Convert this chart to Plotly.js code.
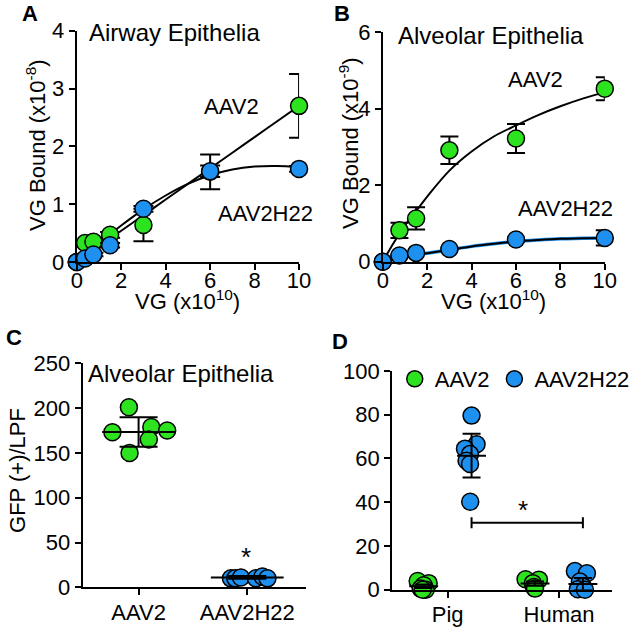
<!DOCTYPE html>
<html>
<head>
<meta charset="utf-8">
<script src="https://cdn.plot.ly/plotly-3.0.1.min.js"></script>
<style>html,body{margin:0;padding:0;background:#fff;}#chart{width:635px;height:627px;}</style>
</head>
<body>
<div id="chart"></div>
<script>
// ---------- Panel A: Airway epithelia binding ----------
const doseA = [0, 0.375, 0.75, 1.5, 3, 6, 10];
const boundA_AAV2 = [0, 0.33, 0.35, 0.47, 0.64, 1.56, 2.7];
const errA_AAV2 = [0, 0.03, 0.03, 0.05, 0.28, 0.3, 0.55];
const boundA_H22 = [0, 0.06, 0.13, 0.29, 0.92, 1.57, 1.61];
const errA_H22 = [0, 0.02, 0.03, 0.04, 0.05, 0.1, 0.05];
const fitA_x = [0, 1, 2, 3, 4, 5, 6, 7, 8, 9, 10];
const fitA_AAV2 = [0, 0.27, 0.54, 0.81, 1.08, 1.35, 1.62, 1.89, 2.16, 2.43, 2.7];
const fitA_H22 = [0, 0.32, 0.63, 0.91, 1.15, 1.35, 1.5, 1.6, 1.65, 1.66, 1.64];

// ---------- Panel B: Alveolar epithelia binding ----------
const doseB = [0, 0.75, 1.5, 3, 6, 10];
const boundB_AAV2 = [0, 0.82, 1.13, 2.91, 3.22, 4.52];
const errB_AAV2 = [0, 0.2, 0.29, 0.36, 0.38, 0.3];
const boundB_H22 = [0, 0.16, 0.23, 0.33, 0.58, 0.62];
const errB_H22 = [0, 0.03, 0.03, 0.04, 0.05, 0.2];
const fitB_x = [0, 0.5, 1, 1.5, 2, 3, 4, 5, 6, 7, 8, 9, 10];
const fitB_AAV2 = [0, 0.5, 0.95, 1.32, 1.7, 2.38, 2.88, 3.27, 3.56, 3.83, 4.06, 4.26, 4.43];
const fitB_H22 = [0, 0.06, 0.12, 0.18, 0.22, 0.31, 0.4, 0.47, 0.53, 0.57, 0.6, 0.61, 0.62];

// ---------- Panel C: GFP(+)/LPF ----------
const groupsC = ['AAV2', 'AAV2H22'];
const gfp_AAV2 = [201, 173, 150, 179, 175, 165];
const jitC_AAV2 = [-0.089, -0.241, -0.083, 0.117, 0.263, 0.094];
const gfp_H22 = [10, 10, 11, 10, 12, 10];
const jitC_H22 = [-0.15, -0.11, -0.058, 0.08, 0.14, 0.186];
const meanC = [173.3, 11];
const sdC = [16.4, 1.5];

// ---------- Panel D: Pig vs Human ----------
const species = ['Pig', 'Human'];
const pig_AAV2 = [4, 3, 2, 0.5, 0, 0];
const jitPig_AAV2 = [-0.054, 0.045, 0, -0.027, 0.018, -0.009];
const human_AAV2 = [4.8, 4.6, 3, 1.2, 0.5];
const jitHuman_AAV2 = [-0.085, 0.035, -0.02, -0.01, 0.0];
const pig_H22 = [79.6, 66.5, 64.5, 62, 59, 57.5, 40.2];
const jitPig_H22 = [0, 0.045, -0.059, -0.014, -0.045, -0.014, -0.012];
const human_H22 = [8.5, 7.5, 3.7, 1.4, 0.2, 0];
const jitHuman_H22 = [-0.072, 0.036, -0.027, 0, -0.045, 0.018];
const meanD_AAV2 = [1.6, 2.8];
const sdD_AAV2 = [0.8, 1.0];
const meanD_H22 = [61.3, 2.6];
const sdD_H22 = [10, 2.8];
const sigBarD = 30.6;   // significance bar level
const sigTickD = 2.5;

// ---------- styles ----------
const GREEN = 'rgb(45,226,30)';
const BLUE = 'rgb(30,144,240)';
const FONT = '"Liberation Sans", Arial, Helvetica, sans-serif';
const W = 635, H = 627;
const fx = p => p / W;
const fy = p => 1 - p / H;
const mk = c => ({color: c, size: 17, line: {color: 'black', width: 1.5}});

const traces = [];

// A
traces.push({x: fitA_x, y: fitA_AAV2, xaxis: 'x', yaxis: 'y', mode: 'lines', line: {color: 'black', width: 2, shape: 'spline'}, showlegend: false, hoverinfo: 'skip'});
traces.push({x: fitA_x, y: fitA_H22, xaxis: 'x', yaxis: 'y', mode: 'lines', line: {color: 'black', width: 2, shape: 'spline'}, showlegend: false, hoverinfo: 'skip'});
traces.push({x: doseA, y: boundA_AAV2, xaxis: 'x', yaxis: 'y', mode: 'markers', marker: mk(GREEN), error_y: {type: 'data', array: errA_AAV2, color: 'black', thickness: 2, width: 10}, showlegend: false, cliponaxis: false});
traces.push({x: doseA, y: boundA_H22, xaxis: 'x', yaxis: 'y', mode: 'markers', marker: mk(BLUE), error_y: {type: 'data', array: errA_H22, color: 'black', thickness: 2, width: 10}, showlegend: false, cliponaxis: false});

// B
traces.push({x: fitB_x, y: fitB_AAV2, xaxis: 'x2', yaxis: 'y2', mode: 'lines', line: {color: 'black', width: 2, shape: 'spline'}, showlegend: false, hoverinfo: 'skip'});
traces.push({x: fitB_x, y: fitB_H22, xaxis: 'x2', yaxis: 'y2', mode: 'lines', line: {color: BLUE, width: 3.5, shape: 'spline'}, showlegend: false, hoverinfo: 'skip'});
traces.push({x: fitB_x, y: fitB_H22, xaxis: 'x2', yaxis: 'y2', mode: 'lines', line: {color: 'black', width: 2, shape: 'spline'}, showlegend: false, hoverinfo: 'skip'});
traces.push({x: doseB, y: boundB_AAV2, xaxis: 'x2', yaxis: 'y2', mode: 'markers', marker: mk(GREEN), error_y: {type: 'data', array: errB_AAV2, color: 'black', thickness: 2, width: 9}, showlegend: false, cliponaxis: false});
traces.push({x: doseB, y: boundB_H22, xaxis: 'x2', yaxis: 'y2', mode: 'markers', marker: mk(BLUE), error_y: {type: 'data', array: errB_H22, color: 'black', thickness: 2, width: 9}, showlegend: false, cliponaxis: false});

// C
const posC = [0, 1];
traces.push({x: jitC_AAV2.map(j => posC[0] + j), y: gfp_AAV2, xaxis: 'x3', yaxis: 'y3', mode: 'markers', marker: mk(GREEN), showlegend: false, cliponaxis: false});
traces.push({x: jitC_H22.map(j => posC[1] + j), y: gfp_H22, xaxis: 'x3', yaxis: 'y3', mode: 'markers', marker: mk(BLUE), showlegend: false, cliponaxis: false});
const hwC = 0.335;
const meanLineC_x = [], meanLineC_y = [];
posC.forEach((p, i) => { meanLineC_x.push(p - hwC, p + hwC, null); meanLineC_y.push(meanC[i], meanC[i], null); });
traces.push({x: meanLineC_x, y: meanLineC_y, xaxis: 'x3', yaxis: 'y3', mode: 'lines', line: {color: 'black', width: 2}, showlegend: false, hoverinfo: 'skip', cliponaxis: false});
traces.push({x: posC, y: meanC, xaxis: 'x3', yaxis: 'y3', mode: 'markers', marker: {size: 1, opacity: 0}, error_y: {type: 'data', array: sdC, color: 'black', thickness: 2, width: 19}, showlegend: false, hoverinfo: 'skip', cliponaxis: false});

// D
const posD = [0, 1];
const off = 0.215;
traces.push({
  x: jitPig_AAV2.map(j => posD[0] - off + j).concat(jitHuman_AAV2.map(j => posD[1] - off + j)),
  y: pig_AAV2.concat(human_AAV2),
  xaxis: 'x4', yaxis: 'y4', mode: 'markers', marker: mk(GREEN), name: 'AAV2', showlegend: true, cliponaxis: false});
traces.push({
  x: jitPig_H22.map(j => posD[0] + off + j).concat(jitHuman_H22.map(j => posD[1] + off + j)),
  y: pig_H22.concat(human_H22),
  xaxis: 'x4', yaxis: 'y4', mode: 'markers', marker: mk(BLUE), name: 'AAV2H22', showlegend: true, cliponaxis: false});
const hwD = 0.13;
const mlx = [], mly = [], ebx = [], eby = [], ebe = [];
posD.forEach((p, i) => {
  mlx.push(p - off - hwD, p - off + hwD, null); mly.push(meanD_AAV2[i], meanD_AAV2[i], null);
  mlx.push(p + off - hwD, p + off + hwD, null); mly.push(meanD_H22[i], meanD_H22[i], null);
  ebx.push(p - off, p + off); eby.push(meanD_AAV2[i], meanD_H22[i]); ebe.push(sdD_AAV2[i], sdD_H22[i]);
});
traces.push({x: mlx, y: mly, xaxis: 'x4', yaxis: 'y4', mode: 'lines', line: {color: 'black', width: 2}, showlegend: false, hoverinfo: 'skip', cliponaxis: false});
traces.push({x: ebx, y: eby, xaxis: 'x4', yaxis: 'y4', mode: 'markers', marker: {size: 1, opacity: 0}, error_y: {type: 'data', array: ebe, color: 'black', thickness: 2, width: 9}, showlegend: false, hoverinfo: 'skip', cliponaxis: false});
// significance bar between pig and human AAV2H22
traces.push({x: [posD[0] + off, posD[1] + off], y: [sigBarD, sigBarD], xaxis: 'x4', yaxis: 'y4', mode: 'lines', line: {color: 'black', width: 2}, error_y: {type: 'constant', value: sigTickD, color: 'black', thickness: 2, width: 0}, showlegend: false, hoverinfo: 'skip', cliponaxis: false});

const axBase = {
  showline: true, linecolor: 'black', linewidth: 2, mirror: false,
  ticks: 'outside', ticklen: 6, tickwidth: 2, tickcolor: 'black',
  showgrid: false, zeroline: false, fixedrange: true,
  tickfont: {family: FONT, size: 22, color: 'black'}
};
const ax = o => Object.assign({}, axBase, o);

const ann = (text, px, py, o) => Object.assign({
  text: text, xref: 'paper', yref: 'paper', x: fx(px), y: fy(py), showarrow: false,
  font: {family: FONT, size: 22, color: 'black'}, xanchor: 'center', yanchor: 'middle'
}, o || {});

const layout = {
  width: W, height: H,
  margin: {l: 0, r: 0, t: 0, b: 0},
  paper_bgcolor: 'white', plot_bgcolor: 'rgba(0,0,0,0)',
  font: {family: FONT, size: 22, color: 'black'},
  xaxis: ax({domain: [fx(77), fx(300)], range: [0, 10], tickvals: [0, 2, 4, 6, 8, 10], anchor: 'y', ticklabelstandoff: -8}),
  yaxis: ax({domain: [fy(262), fy(30.7)], range: [0, 4], tickvals: [0, 1, 2, 3, 4], anchor: 'x'}),
  xaxis2: ax({domain: [fx(384), fx(606.7)], range: [0, 10], tickvals: [0, 2, 4, 6, 8, 10], anchor: 'y2', ticklabelstandoff: -8}),
  yaxis2: ax({domain: [fy(261.7), fy(32)], range: [0, 6], tickvals: [0, 2, 4, 6], anchor: 'x2'}),
  xaxis3: ax({domain: [fx(83), fx(307)], range: [-0.514, 1.541], tickvals: [0, 1], ticktext: groupsC, anchor: 'y3', ticklabelstandoff: -2}),
  yaxis3: ax({domain: [fy(587.3), fy(363.3)], range: [0, 250], tickvals: [0, 50, 100, 150, 200, 250], anchor: 'x3'}),
  xaxis4: ax({domain: [fx(393.3), fx(614)], range: [-0.499, 1.477], tickvals: [0, 1], ticktext: species, anchor: 'y4', ticklabelstandoff: -2}),
  yaxis4: ax({domain: [fy(589.7), fy(371)], range: [0, 100], tickvals: [0, 20, 40, 60, 80, 100], anchor: 'x4'}),
  showlegend: true,
  legend: {orientation: 'h', x: fx(396), xanchor: 'left', y: fy(379), yanchor: 'middle',
           bgcolor: 'rgba(0,0,0,0)', font: {family: FONT, size: 22, color: 'black'}, itemclick: false, itemdoubleclick: false},
  annotations: [
    ann('<b>A</b>', 30, 13, {font: {family: FONT, size: 22, color: 'black'}}),
    ann('<b>B</b>', 343, 13, {font: {family: FONT, size: 22, color: 'black'}}),
    ann('<b>C</b>', 14, 337, {font: {family: FONT, size: 22, color: 'black'}}),
    ann('<b>D</b>', 341, 341, {font: {family: FONT, size: 22, color: 'black'}}),
    ann('Airway Epithelia', 87, 33, {xanchor: 'left', font: {family: FONT, size: 24, color: 'black'}}),
    ann('Alveolar Epithelia', 397, 36, {xanchor: 'left', font: {family: FONT, size: 24, color: 'black'}}),
    ann('Alveolar Epithelia', 86, 373, {xanchor: 'left', font: {family: FONT, size: 24, color: 'black'}}),
    ann('AAV2', 232, 106),
    ann('AAV2H22', 266, 214),
    ann('AAV2', 537, 79),
    ann('AAV2H22', 567, 209),
    ann('VG Bound (x10<sup>-8</sup>)', 36, 145, {textangle: -90}),
    ann('VG Bound (x10<sup>-9</sup>)', 350, 143, {textangle: -90}),
    ann('GFP (+)/LPF', 17, 470, {textangle: -90}),
    ann('VG (x10<sup>10</sup>)', 188, 300),
    ann('VG (x10<sup>10</sup>)', 495, 300),
    ann('*', 246.7, 557, {font: {family: FONT, size: 26, color: 'black'}}),
    ann('*', 524.3, 510, {font: {family: FONT, size: 26, color: 'black'}})
  ]
};

Plotly.newPlot('chart', traces, layout, {staticPlot: true, displayModeBar: false});
</script>
</body>
</html>
